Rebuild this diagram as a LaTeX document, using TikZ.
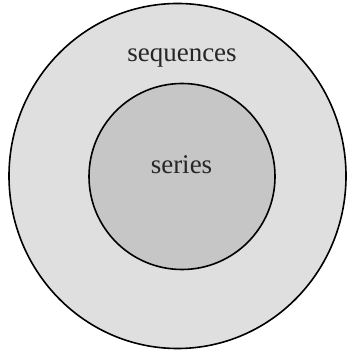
\documentclass[tikz,border=0pt]{standalone}
\usepackage{fontspec}
\setmainfont{Liberation Serif}
\usetikzlibrary{shapes.geometric}
\begin{document}
\begin{tikzpicture}[x=1pt,y=1pt,
  ring/.style={draw=black,line width=1.6pt},
  lbl/.style={font=\fontsize{27}{31}\selectfont,text=black!85,inner sep=0pt,anchor=base}]
\useasboundingbox (0,0) rectangle (347,352);
\fill[white] (0,0) rectangle (347,352);
\node[ring,ellipse,fill=gray!25,minimum width=337pt,minimum height=345pt,inner sep=0pt] (outer) at (177.5,176) {};
\node[ring,circle,fill=gray!45,minimum size=186pt,inner sep=0pt] (inner) at (182,175.5) {};
\node[lbl] (seq) at (182,290.3) {sequences};
\node[lbl] (ser) at (181.5,178.7) {series};
\end{tikzpicture}
\end{document}
